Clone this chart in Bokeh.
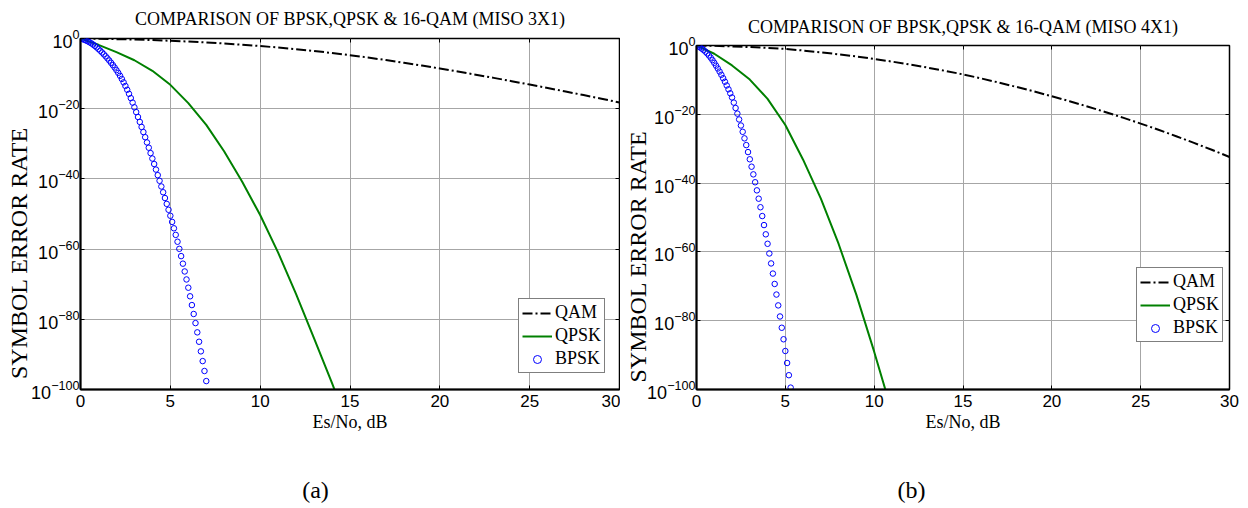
from bokeh.plotting import figure
from bokeh.models import (Range1d, FixedTicker, LinearAxis, LogAxis,
                          Legend, LegendItem, CustomJSTickFormatter)
from bokeh.layouts import row
from bokeh.embed import file_html
from bokeh.resources import INLINE

SERIF = "Liberation Serif"
SANS = "Liberation Sans"

# ---------------- data (log10 of symbol error rate) ----------------
snr_int = list(range(0, 31))
x_ticks = [0, 5, 10, 15, 20, 25, 30]
y_ticks = [1e-100, 1e-80, 1e-60, 1e-40, 1e-20, 1e0]

# panel (a) MISO 3x1
qam_a = [0, -0.08, -0.18, -0.30, -0.45, -0.65, -0.87, -1.13, -1.43, -1.77,
         -2.15, -2.57, -3.04, -3.56, -4.13, -4.75, -5.43, -6.15, -6.91, -7.71,
         -8.55, -9.41, -10.30, -11.22, -12.16, -13.12, -14.10, -15.10, -16.12,
         -17.16, -18.22]
qpsk_a_snr = list(range(0, 16))
qpsk_a = [0, -1.8, -3.9, -6.2, -9.2, -13.2, -18.4, -24.6, -32.2, -40.8, -50.3,
          -61.0, -72.8, -85.4, -98.2, -111.5]
bpsk_a = [0, -0.15, -0.33, -0.54, -0.78, -1.06, -1.37, -1.72, -2.11, -2.53,
          -3.00, -3.48, -3.98, -4.51, -5.07, -5.66, -6.27, -6.91, -7.58, -8.27,
          -9.00, -9.78, -10.62, -11.52, -12.49, -13.52, -14.61, -15.76, -16.98,
          -18.26, -19.60, -20.97, -22.36, -23.77, -25.20, -26.65, -28.12, -29.61,
          -31.12, -32.65, -34.20, -35.76, -37.34, -38.93, -40.54, -42.16, -43.80,
          -45.45, -47.12, -48.80, -50.50, -52.25, -54.07, -55.95, -57.90, -59.92,
          -62.00, -64.15, -66.37, -68.65, -71.00, -73.45, -75.95, -78.49, -81.08,
          -83.72, -86.40, -89.13, -91.91, -94.73, -97.60]
bpsk_a_snr = [round(0.1 * i, 1) for i in range(len(bpsk_a))]

# panel (b) MISO 4x1
qam_b = [0, -0.10, -0.25, -0.45, -0.70, -1.00, -1.46, -1.98, -2.56, -3.20,
         -3.90, -4.68, -5.52, -6.42, -7.38, -8.40, -9.55, -10.76, -12.03,
         -13.36, -14.75, -16.20, -17.72, -19.31, -20.97, -22.70, -24.50, -26.37,
         -28.31, -30.32, -32.40]
qpsk_b_snr = list(range(0, 12))
qpsk_b = [0, -2.4, -5.8, -9.9, -15.5, -23.1, -33.2, -44.5, -57.7, -72.5, -89.0,
          -106.5]
bpsk_b = [0, -0.25, -0.55, -0.91, -1.31, -1.78, -2.30, -2.89, -3.54, -4.25,
          -5.04, -5.85, -6.69, -7.58, -8.52, -9.51, -10.53, -11.61, -12.73,
          -13.89, -15.10, -16.60, -18.17, -19.80, -21.50, -23.26, -25.09, -26.99,
          -28.95, -30.98, -33.07, -35.23, -37.46, -39.75, -42.11, -44.53, -47.02,
          -49.58, -52.20, -54.89, -57.64, -60.46, -63.35, -66.30, -69.32, -72.40,
          -75.55, -78.77, -82.05, -85.40, -88.81, -92.29, -95.84, -99.45]
bpsk_b_snr = [round(0.1 * i, 1) for i in range(len(bpsk_b))]

titles = ["COMPARISON OF BPSK,QPSK & 16-QAM (MISO 3X1)",
          "COMPARISON OF BPSK,QPSK & 16-QAM (MISO 4X1)"]
panel_tags = ["(a)", "(b)"]
y_label = "SYMBOL ERROR RATE"
x_label = "Es/No, dB"

# trailing no-break spaces push the rotated y title down (it sits below centre)
YPAD = "\u00a0" * 13


def pw(vals):
    return [10.0 ** v for v in vals]


def make_panel(width, height, top_margin, bl, br, title_standoff, ylab_standoff,
               title, tag, tag_x, qam, qpsk_x, qpsk, bpsk_x, bpsk, legend_loc):
    p = figure(width=width, height=height, y_axis_type="log",
               x_range=Range1d(0, 30), y_range=Range1d(1e-100, 1e0),
               output_backend="svg", toolbar_location=None,
               title_location=None,
               min_border_left=bl, min_border_right=br,
               min_border_top=38, min_border_bottom=119,
               margin=(top_margin, 0, 0, 0))
    p.background_fill_color = "white"
    p.border_fill_color = "white"
    p.outline_line_color = "black"
    p.outline_line_width = 1.5

    for ax in p.xaxis:
        ax.ticker = FixedTicker(ticks=x_ticks)
        ax.major_label_text_font = SANS
        ax.major_label_text_font_size = "17px"
        ax.major_label_text_color = "black"
        ax.major_tick_in = 4
        ax.major_tick_out = 0
        ax.minor_tick_line_color = None
        ax.axis_line_width = 2
        ax.major_label_standoff = 5
        ax.axis_label = x_label
        ax.axis_label_text_font = SERIF
        ax.axis_label_text_font_size = "18px"
        ax.axis_label_text_font_style = "normal"
        ax.axis_label_text_color = "black"
        ax.axis_label_standoff = 2
    for ax in p.yaxis:
        ax.ticker = FixedTicker(ticks=y_ticks)
        ax.major_label_text_font = SANS
        ax.major_label_text_font_size = "18px"
        ax.major_label_text_color = "black"
        ax.major_tick_in = 4
        ax.major_tick_out = 0
        ax.minor_tick_line_color = None
        ax.axis_line_width = 2
        ax.major_label_standoff = 1
        ax.axis_label = y_label + YPAD
        ax.axis_label_text_font = SERIF
        ax.axis_label_text_font_size = "24px"
        ax.axis_label_text_font_style = "normal"
        ax.axis_label_text_color = "black"
        ax.axis_label_standoff = ylab_standoff

    blank = CustomJSTickFormatter(code="return ''")
    # top axis: inward ticks + title
    top = LinearAxis(ticker=FixedTicker(ticks=x_ticks), formatter=blank,
                     major_tick_in=4, major_tick_out=0, minor_tick_line_color=None,
                     axis_line_color=None, major_label_standoff=0,
                     major_label_text_font_size="1px",
                     axis_label=title, axis_label_text_font=SERIF,
                     axis_label_text_font_size="18px",
                     axis_label_text_font_style="normal",
                     axis_label_text_color="black",
                     axis_label_standoff=title_standoff)
    p.add_layout(top, "above")
    right = LogAxis(ticker=FixedTicker(ticks=y_ticks), formatter=blank,
                    major_tick_in=4, major_tick_out=0, minor_tick_line_color=None,
                    axis_line_color=None, major_label_standoff=0,
                    major_label_text_font_size="1px")
    p.add_layout(right, "right")
    # panel tag "(a)" / "(b)" under the x-axis title
    tag_axis = LinearAxis(ticker=FixedTicker(ticks=[tag_x]),
                          formatter=CustomJSTickFormatter(code="return '%s'" % tag),
                          major_tick_in=0, major_tick_out=0,
                          minor_tick_line_color=None, axis_line_color=None,
                          major_label_standoff=42,
                          major_label_text_font=SERIF,
                          major_label_text_font_size="24px",
                          major_label_text_color="black")
    p.add_layout(tag_axis, "below")

    p.xgrid.ticker = FixedTicker(ticks=x_ticks)
    p.ygrid.ticker = FixedTicker(ticks=y_ticks)
    p.xgrid.grid_line_color = "#a6a6a6"
    p.ygrid.grid_line_color = "#a6a6a6"

    r_qam = p.line(snr_int, pw(qam), line_color="black", line_width=2,
                   line_dash="10 3 2 3")
    r_qpsk = p.line(qpsk_x, pw(qpsk), line_color="#008000", line_width=2)
    r_bpsk = p.scatter(bpsk_x, pw(bpsk), marker="circle", size=5.5,
                       fill_color=None, line_color="#0000ff", line_width=1)

    leg = Legend(items=[LegendItem(label="QAM", renderers=[r_qam]),
                        LegendItem(label="QPSK", renderers=[r_qpsk]),
                        LegendItem(label="BPSK", renderers=[r_bpsk])],
                 location=legend_loc)
    leg.label_text_font = SERIF
    leg.label_text_font_size = "18px"
    leg.label_text_color = "black"
    leg.glyph_width = 30
    leg.glyph_height = 20
    leg.label_height = 20
    leg.label_standoff = 3
    leg.spacing = 2
    leg.padding = 3
    leg.margin = 0
    leg.border_line_color = "black"
    leg.border_line_width = 1.5
    leg.background_fill_color = "white"
    leg.background_fill_alpha = 1
    p.add_layout(leg)
    return p


pa = make_panel(620, 508, 0, 80, 1, 10, -4, titles[0], panel_tags[0], 13.08,
                qam_a, qpsk_a_snr, qpsk_a, bpsk_a_snr, bpsk_a, (438, 16))
pb = make_panel(628, 501, 7, 76, 19, 9, -7, titles[1], panel_tags[1], 12.10,
                qam_b, qpsk_b_snr, qpsk_b, bpsk_b_snr, bpsk_b, (440, 47))

layout = row(pa, pb)
open("out.html", "w").write(file_html(layout, INLINE))
